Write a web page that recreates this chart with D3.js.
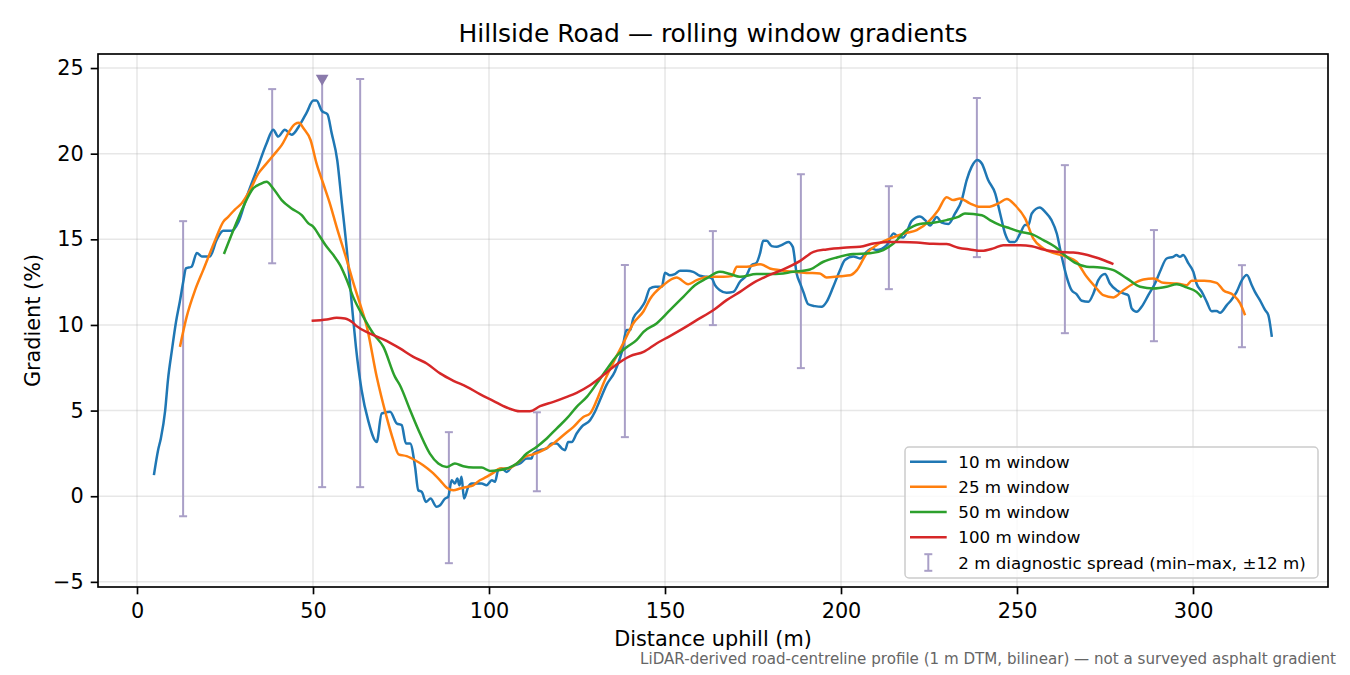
<!DOCTYPE html>
<html>
<head>
<meta charset="utf-8">
<script src="https://cdn.jsdelivr.net/npm/d3@7"></script>
<style>
html,body{margin:0;padding:0;background:#fff;}
svg{display:block;font-family:"DejaVu Sans",sans-serif;}
</style>
</head>
<body>
<svg id="chart" width="1350" height="675"></svg>
<script>
// ---------- data ----------
const seriesNames = ["10 m window", "25 m window", "50 m window", "100 m window"];
const seriesColors = ["#1f77b4", "#ff7f0e", "#2ca02c", "#d62728"];

const w10 = [[4.8,1.23],[6,2.7],[6.8,3.4],[8,5.0],[8.8,6.8],[9.9,8.5],[11.1,10.2],[12.2,11.4],[13.2,12.6],[13.9,13.3],[15.5,13.4],[17.0,14.2],[18.4,14.0],[20.7,14.0],[22.6,14.95],[24.5,15.5],[26.9,15.5],[28.8,16.0],[31.2,17.5],[34.0,19.04],[36.8,20.6],[38.7,21.4],[40.1,21.0],[42.0,21.4],[43.9,21.1],[46.3,21.7],[48.2,22.4],[50.1,23.1],[51.0,23.1],[52.5,22.5],[54.1,22.3],[55.3,21.2],[56.9,19.6],[58.1,17.3],[59.6,14.4],[60.5,12.4],[61.3,10.6],[62.2,8.7],[63.8,6.2],[65.7,4.4],[68.1,3.17],[69.5,4.83],[71.9,4.93],[73.8,4.25],[75.2,4.15],[76.4,3.08],[77.6,3.08],[79.0,1.71],[79.9,0.35],[80.9,0.25],[82.1,-0.33],[83.4,-0.14],[85.1,-0.62],[86.1,-0.53],[87.5,-0.14],[88.4,-0.04],[89.4,0.93],[90.3,0.74],[91.0,1.03],[91.6,0.64],[92.2,1.13],[92.9,-0.14],[94.1,0.54],[95.1,0.74],[96.5,0.74],[97.9,0.74],[99.3,0.64],[100.8,0.93],[101.7,0.84],[102.6,1.52],[103.6,1.62],[105.0,1.42],[106.4,1.71],[108.8,1.91],[110.7,2.2],[112.1,2.2],[112.6,2.49],[114.5,2.69],[116.4,2.79],[117.8,3.08],[119.2,3.08],[120.7,2.79],[121.6,2.69],[122.5,3.17],[123.5,3.17],[124.9,3.66],[126.3,4.05],[128.7,4.44],[130.1,4.93],[131.5,5.6],[133.4,6.5],[135.8,7.3],[137.7,8.4],[139.1,9.7],[140.1,9.7],[141.0,10.4],[142.9,10.9],[144.3,11.35],[145.7,12.13],[147.2,12.23],[149.1,12.23],[150.0,13.05],[151.4,12.9],[152.8,12.97],[154.3,13.16],[156.2,13.16],[158.0,13.1],[159.9,12.87],[161.8,12.81],[163.3,12.72],[164.2,12.32],[165.6,12.03],[167.5,11.88],[169.4,11.93],[171.3,12.52],[173.2,12.91],[174.6,13.49],[176.0,13.63],[177.0,14.18],[177.9,14.91],[178.9,14.91],[180.3,14.6],[181.7,14.56],[183.1,14.66],[185.0,14.85],[186.3,14.56],[187.4,13.0],[188.4,12.42],[189.3,11.93],[190.7,11.21],[192.6,11.1],[194.5,11.06],[195.9,11.35],[197.8,12.23],[199.7,13.2],[201.1,13.79],[203.5,14.0],[205.4,13.88],[207.3,14.27],[208.7,14.47],[210.1,14.37],[213.0,14.66],[214.9,15.34],[216.3,15.15],[217.7,15.11],[220.1,16.08],[222.4,16.33],[223.9,16.12],[225.3,15.8],[227.2,16.31],[228.6,15.97],[230.5,15.89],[232.4,16.51],[234.3,17.29],[235.7,18.46],[237.1,19.23],[238.7,19.63],[240.0,19.43],[241.8,18.46],[243.8,17.68],[245.2,16.51],[246.6,15.34],[248.0,14.85],[249.4,14.85],[250.9,15.34],[252.3,15.83],[253.2,15.83],[254.2,16.51],[256.5,16.86],[258.0,16.6],[259.8,16.12],[261.3,15.34],[262.7,13.98],[264.1,12.81],[265.5,12.03],[266.9,11.8],[268.4,11.41],[270.3,11.35],[271.7,11.84],[273.1,12.62],[275.0,12.97],[276.4,12.42],[278.3,12.03],[280.2,11.84],[281.6,11.74],[282.6,10.96],[284.0,10.77],[285.4,11.06],[287.3,11.74],[289.2,12.42],[290.6,13.1],[292.5,13.88],[294.4,13.98],[295.3,14.08],[296.3,13.98],[297.2,14.08],[298.7,13.59],[300.1,13.1],[301.0,12.42],[302.5,11.93],[303.9,11.35],[305.3,10.8],[306.7,10.82],[307.7,10.71],[309.6,11.16],[311.0,11.49],[312.4,11.93],[313.9,12.62],[315.3,12.91],[316.7,12.32],[317.6,11.93],[319.0,11.45],[320.5,10.86],[321.4,10.57],[322.4,9.3]];

const w25 = [[12.2,8.72],[14.1,10.47],[16.5,12.03],[18.8,13.2],[22.2,14.95],[24.5,16.02],[25.9,16.31],[27.8,16.74],[29.7,17.09],[32.1,17.87],[34.5,18.85],[36.4,19.33],[39.2,20.02],[41.1,20.5],[43.5,21.38],[44.9,21.73],[46.0,21.8],[47.3,21.48],[49.3,20.8],[51.0,19.43],[52.9,18.26],[54.8,17.09],[56.7,15.73],[59.6,13.79],[61.4,12.5],[63.4,11.2],[65.3,9.89],[68.1,6.97],[70.9,4.63],[72.8,3.27],[74.3,2.45],[76.6,2.34],[79.0,2.1],[81.3,1.81],[83.7,1.42],[86.1,0.93],[88.0,0.5],[89.9,0.35],[91.8,0.45],[93.7,0.54],[95.5,0.64],[97.4,0.93],[99.3,1.13],[101.2,1.36],[103.1,1.62],[105.5,1.62],[107.9,1.91],[110.2,2.3],[112.6,2.45],[115.4,2.69],[118.3,3.08],[121.1,3.56],[124.0,4.05],[126.8,4.63],[128.7,4.83],[130.6,5.6],[132.5,6.58],[135.3,7.8],[138.2,8.95],[141.0,10.1],[143.9,10.8],[145.7,11.5],[149.5,12.32],[153.3,12.77],[156.6,12.38],[159.0,12.62],[162.8,12.81],[166.6,12.81],[169.0,12.85],[170.4,13.4],[173.2,13.4],[177.0,13.55],[179.8,13.3],[182.7,13.2],[186.4,13.1],[190.2,13.04],[194.0,13.01],[195.9,12.77],[199.7,12.85],[202.6,12.9],[204.5,13.2],[207.3,14.18],[210.1,14.66],[214.0,15.05],[218.7,15.38],[221.5,15.54],[225.3,16.12],[227.6,16.7],[230.0,17.45],[231.9,17.29],[233.8,17.39],[236.6,17.1],[239.5,16.9],[241.8,16.9],[244.7,17.1],[247.1,17.35],[249.4,17.0],[252.3,16.22],[254.6,15.05],[257.5,14.47],[260.8,14.18],[264.1,13.98],[266.9,13.69],[269.8,12.81],[272.2,12.23],[274.5,11.74],[277.4,11.61],[280.2,12.03],[283.1,12.42],[285.9,12.66],[288.8,12.71],[291.6,12.46],[295.4,12.42],[298.2,12.32],[299.6,12.58],[303.2,12.58],[306.7,12.46],[308.6,12.03],[311.5,11.74],[313.4,11.26],[314.8,10.57]];

const w50 = [[24.7,14.14],[27.4,15.54],[30.2,16.9],[33.0,17.97],[34.9,18.22],[36.8,18.36],[38.7,17.97],[41.1,17.29],[43.9,16.8],[46.8,16.41],[48.7,15.93],[50.1,15.73],[52.0,15.15],[53.9,14.56],[55.8,14.08],[57.7,13.49],[59.6,12.62],[61.4,11.64],[64.3,10.47],[67.1,9.5],[70.0,8.72],[73.3,6.97],[74.7,6.48],[77.6,5.02],[80.4,3.66],[83.2,2.49],[85.6,1.91],[88.0,1.71],[90.3,1.91],[92.7,1.75],[95.5,1.67],[97.9,1.67],[100.3,1.48],[102.6,1.52],[105.0,1.62],[107.9,1.91],[110.7,2.49],[113.5,2.88],[116.4,3.37],[119.2,3.95],[122.1,4.54],[124.9,5.22],[127.8,5.8],[130.6,6.58],[133.4,7.4],[136.3,8.2],[139.1,8.7],[141.9,9.11],[143.9,9.6],[147.6,10.09],[151.4,10.86],[155.2,11.64],[158.5,12.32],[161.8,12.72],[165.6,13.1],[168.5,12.97],[171.3,12.81],[176.0,12.97],[180.7,12.97],[186.4,13.1],[191.2,13.24],[195.0,13.69],[198.8,13.94],[203.5,14.14],[208.2,14.18],[212.0,14.37],[214.9,14.76],[218.7,15.54],[222.4,15.9],[226.2,15.97],[230.0,16.12],[233.3,16.31],[235.2,16.51],[240.0,16.41],[242.3,16.12],[245.2,15.83],[248.0,15.64],[250.9,15.44],[254.2,15.3],[257.5,14.95],[260.8,14.56],[264.1,13.98],[266.9,13.59],[269.8,13.4],[273.6,13.36],[277.4,13.2],[281.2,12.72],[285.0,12.23],[288.8,12.13],[292.5,12.23],[295.4,12.38],[298.2,12.19],[301.0,11.93],[302.5,11.61]];

const w100 = [[49.6,10.24],[53.9,10.32],[56.7,10.42],[59.1,10.38],[61.4,10.12],[62.4,9.93],[66.2,9.5],[70.9,9.07],[74.7,8.63],[78.5,8.14],[82.3,7.75],[86.1,7.17],[89.9,6.74],[93.7,6.39],[97.4,5.96],[101.2,5.57],[105.0,5.18],[108.8,4.96],[111.6,4.96],[114.5,5.26],[118.3,5.51],[122.1,5.8],[124.9,6.04],[128.7,6.48],[132.5,7.07],[135.3,7.55],[140.1,8.18],[143.9,8.43],[147.6,8.92],[151.4,9.35],[155.2,9.8],[159.0,10.28],[163.7,10.86],[167.5,11.45],[171.3,11.93],[175.1,12.46],[178.9,12.85],[183.6,13.24],[188.4,13.74],[192.2,14.27],[195.9,14.41],[200.7,14.51],[205.4,14.56],[209.2,14.76],[213.0,14.85],[216.8,14.84],[221.5,14.81],[226.2,14.74],[230.0,14.72],[233.3,14.51],[236.6,14.41],[240.0,14.33],[243.3,14.47],[246.1,14.66],[250.9,14.66],[254.2,14.6],[257.5,14.41],[261.3,14.27],[266.0,14.23],[268.8,14.14],[271.7,13.98],[274.5,13.79],[277.4,13.55]];

// 2 m diagnostic spread (min–max within ±12 m)
const spreadX  = [13.1, 38.4, 52.6, 63.4, 88.6, 113.6, 138.6, 163.6, 188.6, 213.6, 238.6, 263.6, 288.9, 313.9];
const spreadLo = [-1.17, 13.6, 0.53, 0.53, -3.91, 0.29, 3.45, 9.99, 7.48, 12.09, 13.96, 9.52, 9.05, 8.7];
const spreadHi = [16.06, 23.77, 24.4, 24.36, 3.74, 4.9, 13.5, 15.48, 18.8, 18.1, 23.25, 19.33, 15.54, 13.49];

// steepest-point marker
const peakX = [52.6];
const peakY = [24.4];

const xTicks = [0, 50, 100, 150, 200, 250, 300];
const yTicks = [-5, 0, 5, 10, 15, 20, 25];

const titleText = "Hillside Road — rolling window gradients";
const xLabel = "Distance uphill (m)";
const yLabel = "Gradient (%)";
const footText = "LiDAR-derived road-centreline profile (1 m DTM, bilinear) — not a surveyed asphalt gradient";
const spreadLabel = "2 m diagnostic spread (min–max, ±12 m)";

// ---------- layout ----------
const L = 98, R = 1328, T = 54, B = 587;
const svg = d3.select("#chart");
const x = d3.scaleLinear().domain([-11.08, 338.35]).range([L, R]);
const y = d3.scaleLinear().domain([-5.3, 25.82]).range([B, T]);

const clipId = "plotclip";
svg.append("defs").append("clipPath").attr("id", clipId)
  .append("rect").attr("x", L).attr("y", T).attr("width", R - L).attr("height", B - T);

// grid
const grid = svg.append("g");
grid.selectAll(".gx").data(xTicks).join("line")
  .attr("x1", d => x(d)).attr("x2", d => x(d)).attr("y1", T).attr("y2", B)
  .attr("stroke", "#b0b0b0").attr("stroke-opacity", 0.3).attr("stroke-width", 1.5);
grid.selectAll(".gy").data(yTicks).join("line")
  .attr("x1", L).attr("x2", R).attr("y1", d => y(d)).attr("y2", d => y(d))
  .attr("stroke", "#b0b0b0").attr("stroke-opacity", 0.3).attr("stroke-width", 1.5);

const plot = svg.append("g").attr("clip-path", `url(#${clipId})`);

// error bars
const barColor = "#a99fc7";
const cap = 4;
const eb = plot.append("g");
spreadX.forEach((sx, i) => {
  const g = eb.append("g");
  g.append("line").attr("x1", x(sx)).attr("x2", x(sx))
    .attr("y1", y(spreadLo[i])).attr("y2", y(spreadHi[i]))
    .attr("stroke", barColor).attr("stroke-width", 2);
  [spreadLo[i], spreadHi[i]].forEach(v => {
    g.append("line").attr("x1", x(sx) - cap).attr("x2", x(sx) + cap)
      .attr("y1", y(v)).attr("y2", y(v))
      .attr("stroke", barColor).attr("stroke-width", 2);
  });
});

// lines
const line = d3.line().x(d => x(d[0])).y(d => y(d[1])).curve(d3.curveMonotoneX);
const allSeries = [w10, w25, w50, w100];
allSeries.forEach((s, i) => {
  plot.append("path").datum(s)
    .attr("d", line)
    .attr("fill", "none")
    .attr("stroke", seriesColors[i])
    .attr("stroke-width", 2.5)
    .attr("stroke-linejoin", "round")
    .attr("stroke-linecap", "butt");
});

// peak marker (downward triangle)
const tri = d3.symbol().type(d3.symbolTriangle).size(70);
plot.selectAll(".peak").data(peakX).join("path")
  .attr("d", tri)
  .attr("transform", (d, i) => `translate(${x(d)},${y(peakY[i])}) rotate(180)`)
  .attr("fill", "#8a7aab");

// axes
const fontTick = 20.8;
const xAxis = d3.axisBottom(x).tickValues(xTicks).tickSize(7.3).tickPadding(7).tickFormat(d3.format("d"));
const yAxis = d3.axisLeft(y).tickValues(yTicks).tickSize(7.3).tickPadding(7).tickFormat(d => d < 0 ? "\u2212" + Math.abs(d) : String(d));

const gx = svg.append("g").attr("transform", `translate(0,${B})`).call(xAxis);
const gy = svg.append("g").attr("transform", `translate(${L},0)`).call(yAxis);
[gx, gy].forEach(g => {
  g.select(".domain").remove();
  g.selectAll("line").attr("stroke", "#000").attr("stroke-width", 1.67);
  g.selectAll("text").attr("font-family", "DejaVu Sans").attr("font-size", fontTick).attr("fill", "#000");
});
gx.selectAll("text").attr("dy", "0.78em");

// spines
svg.append("rect").attr("x", L).attr("y", T).attr("width", R - L).attr("height", B - T)
  .attr("fill", "none").attr("stroke", "#000").attr("stroke-width", 1.67);

// titles
svg.append("text").attr("x", (L + R) / 2).attr("y", 41.5).attr("text-anchor", "middle")
  .attr("font-size", 25).attr("fill", "#000").text(titleText);
svg.append("text").attr("x", (L + R) / 2).attr("y", 646).attr("text-anchor", "middle")
  .attr("font-size", 20.8).attr("fill", "#000").text(xLabel);
svg.append("text").attr("transform", `translate(40,${(T + B) / 2}) rotate(-90)`)
  .attr("text-anchor", "middle").attr("font-size", 20.8).attr("fill", "#000").text(yLabel);
svg.append("text").attr("x", 1336).attr("y", 664).attr("text-anchor", "end")
  .attr("font-size", 15.1).attr("fill", "#666").text(footText);

// legend
const lg = svg.append("g");
lg.append("rect").attr("x", 905).attr("y", 447).attr("width", 413).attr("height", 131)
  .attr("rx", 4).attr("fill", "#fff").attr("fill-opacity", 0.8)
  .attr("stroke", "#cccccc").attr("stroke-width", 1.5);
const rowY = [461.7, 486.8, 512, 537.2, 562.5];
seriesNames.forEach((n, i) => {
  lg.append("line").attr("x1", 910).attr("x2", 946.7).attr("y1", rowY[i]).attr("y2", rowY[i])
    .attr("stroke", seriesColors[i]).attr("stroke-width", 2.5);
  lg.append("text").attr("x", 958.3).attr("y", rowY[i] + 6).attr("font-size", 16.7)
    .attr("fill", "#000").text(n);
});
const ey = rowY[4];
lg.append("line").attr("x1", 928.3).attr("x2", 928.3).attr("y1", ey - 8.3).attr("y2", ey + 8.3)
  .attr("stroke", barColor).attr("stroke-width", 2);
[ey - 8.3, ey + 8.3].forEach(v => lg.append("line").attr("x1", 924.3).attr("x2", 932.3)
  .attr("y1", v).attr("y2", v).attr("stroke", barColor).attr("stroke-width", 2));
lg.append("text").attr("x", 958.3).attr("y", ey + 6).attr("font-size", 16.7)
  .attr("fill", "#000").text(spreadLabel);
</script>
</body>
</html>
